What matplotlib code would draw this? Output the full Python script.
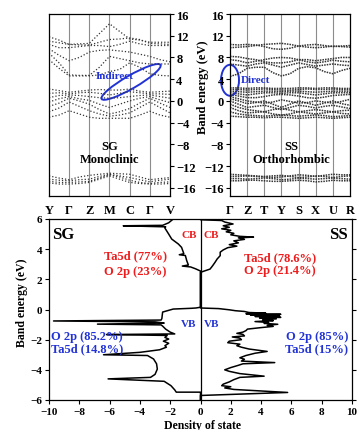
"""Band structure (SG monoclinic / SS orthorhombic) + total DOS comparison."""
import numpy as np
import matplotlib
matplotlib.use('Agg')
import matplotlib.pyplot as plt
from matplotlib.patches import Ellipse
from matplotlib.transforms import ScaledTranslation

plt.rcParams['font.family'] = ['Liberation Serif', 'DejaVu Serif']
plt.rcParams['font.weight'] = 'bold'

RED = '#ee1c1c'
BLUE = '#2233d6'
BAND_C = '#333333'

# ---- band structure data (eV at high-symmetry points and midpoints) ----
sg_kpts = ['Y', 'Γ', 'Z', 'M', 'C', 'Γ', 'V']
sg_bands = [
    [11.8, 11.2, 10.4, 10.5, 10.6, 12.4, 14.2, 12.8, 11.4, 11.2, 10.8, 10.8, 10.8],
    [11.0, 10.7, 10.4, 10.3, 10.3, 10.8, 11.3, 11.4, 11.6, 11.3, 10.6, 10.5, 10.4],
    [10.4, 9.8, 9.8, 10.0, 10.2, 10.2, 10.0, 10.4, 11.0, 10.5, 10.2, 10.2, 10.2],
    [9.6, 8.4, 7.4, 8.0, 9.0, 9.3, 9.4, 9.2, 9.0, 8.6, 8.2, 7.6, 7.2],
    [8.8, 7.0, 4.8, 4.7, 4.7, 6.2, 8.2, 7.8, 7.4, 7.0, 6.8, 6.8, 6.8],
    [7.6, 6.0, 4.6, 4.6, 4.6, 4.8, 5.4, 5.8, 7.0, 6.2, 5.0, 4.7, 4.6],
    [2.2, 1.9, 1.6, 1.8, 2.0, 2.1, 2.0, 2.0, 2.2, 1.8, 1.6, 1.7, 1.8],
    [1.4, 1.5, 1.3, 1.5, 1.6, 1.4, 1.1, 1.4, 1.7, 1.5, 1.3, 1.3, 1.2],
    [0.6, 1.0, 1.1, 1.0, 0.8, 0.6, 0.5, 0.6, 0.8, 1.0, 1.1, 0.8, 0.5],
    [-0.2, 0.4, 0.8, 0.4, 0.1, -0.6, -1.2, -0.6, 0.0, 0.5, 0.8, 0.2, -0.3],
    [-1.0, -0.4, 0.5, 0.0, -0.6, -1.6, -2.4, -2.0, -1.4, -0.4, 0.5, -0.4, -1.2],
    [-2.0, -1.3, -0.2, -1.0, -1.8, -2.4, -2.8, -2.6, -2.2, -1.2, -0.2, -1.2, -2.2],
    [-3.0, -2.6, -1.8, -2.4, -3.0, -3.2, -3.2, -3.2, -3.2, -2.6, -1.9, -2.6, -3.0],
    [-13.8, -14.2, -14.5, -14.0, -13.7, -13.5, -13.3, -13.4, -13.5, -14.0, -14.5, -14.3, -14.1],
    [-14.4, -14.6, -14.7, -14.5, -14.4, -13.9, -13.5, -13.8, -14.1, -14.5, -14.9, -14.6, -14.4],
    [-14.8, -15.0, -15.0, -14.9, -14.8, -14.2, -13.6, -14.0, -14.6, -15.0, -15.2, -15.0, -14.9],
    [-15.1, -15.3, -15.3, -15.2, -15.0, -14.4, -13.8, -14.4, -15.0, -15.2, -15.3, -15.3, -15.2],
]

ss_kpts = ['Γ', 'Z', 'T', 'Y', 'S', 'X', 'U', 'R']
ss_bands = [
    [10.4, 10.3, 10.4, 10.3, 10.0, 9.6, 9.5, 9.7, 10.1, 10.3, 10.4, 10.2, 10.0, 10.1, 10.2],
    [9.8, 9.9, 10.0, 10.2, 10.4, 10.5, 10.6, 10.4, 10.1, 9.9, 9.8, 9.9, 10.1, 10.0, 9.9],
    [8.2, 8.1, 7.8, 7.6, 7.2, 7.0, 7.0, 7.2, 7.6, 7.6, 7.4, 7.6, 7.8, 8.0, 8.0],
    [7.6, 7.4, 7.0, 7.3, 7.6, 7.9, 8.0, 7.9, 7.6, 7.2, 7.0, 7.2, 7.5, 7.3, 7.2],
    [6.8, 6.6, 6.4, 6.8, 7.0, 6.6, 6.2, 6.6, 7.0, 6.7, 6.4, 6.6, 6.8, 6.6, 6.5],
    [4.5, 5.0, 6.0, 6.2, 6.2, 5.2, 4.6, 5.0, 6.0, 6.3, 6.1, 5.4, 5.0, 5.6, 6.0],
    [2.4, 2.4, 2.3, 2.4, 2.4, 2.3, 2.3, 2.3, 2.4, 2.4, 2.3, 2.4, 2.4, 2.3, 2.3],
    [2.1, 2.1, 2.0, 2.1, 2.2, 2.1, 2.0, 2.0, 2.1, 2.2, 2.1, 2.1, 2.2, 2.1, 2.1],
    [1.8, 1.7, 1.6, 1.7, 1.8, 1.8, 1.7, 1.8, 1.8, 1.7, 1.6, 1.7, 1.8, 1.8, 1.8],
    [1.5, 1.3, 1.1, 1.3, 1.5, 1.5, 1.4, 1.5, 1.5, 1.3, 1.1, 1.3, 1.5, 1.5, 1.5],
    [1.2, 0.9, 0.6, 0.6, 0.8, 1.1, 1.2, 1.1, 0.9, 0.6, 0.5, 0.7, 1.0, 1.1, 1.2],
    [0.8, 0.4, 0.0, -0.2, -0.4, -0.2, 0.2, -0.1, -0.4, -0.3, 0.0, -0.2, -0.4, -0.1, 0.3],
    [0.4, 0.0, -0.5, -0.3, 0.0, -0.6, -1.2, -0.6, 0.0, -0.4, -0.8, -0.4, 0.0, -0.5, -0.8],
    [0.0, -0.6, -1.2, -1.0, -0.8, -1.2, -1.6, -1.2, -0.8, -1.0, -1.3, -1.0, -0.8, -1.1, -1.4],
    [-0.6, -1.2, -1.6, -1.8, -2.0, -1.6, -1.4, -1.7, -2.0, -1.8, -1.6, -1.8, -2.0, -1.8, -1.7],
    [-1.2, -1.8, -2.2, -2.1, -2.0, -2.4, -2.6, -2.4, -2.0, -2.2, -2.4, -2.2, -2.0, -2.3, -2.4],
    [-2.0, -2.4, -2.6, -2.7, -2.8, -2.7, -2.6, -2.7, -2.8, -2.7, -2.6, -2.7, -2.9, -2.8, -2.7],
    [-2.8, -2.9, -3.0, -3.0, -3.1, -3.0, -3.0, -3.1, -3.2, -3.1, -3.0, -3.1, -3.2, -3.1, -3.0],
    [-13.5, -13.6, -13.7, -13.8, -14.0, -14.1, -14.0, -13.8, -13.6, -13.7, -13.9, -13.7, -13.5, -13.6, -13.6],
    [-13.9, -13.9, -13.8, -13.9, -13.9, -13.8, -13.7, -13.9, -14.1, -14.0, -13.8, -13.9, -14.1, -13.9, -13.8],
    [-14.3, -14.3, -14.4, -14.3, -14.2, -14.3, -14.5, -14.4, -14.2, -14.3, -14.4, -14.3, -14.2, -14.3, -14.4],
    [-14.7, -14.7, -14.6, -14.6, -14.7, -14.8, -14.8, -14.7, -14.6, -14.7, -14.9, -14.8, -14.6, -14.7, -14.7],
]

# ---- DOS data: energy (eV), density ----
sg_energy = [6.3, 6.0, 5.75, 5.58, 5.55, 5.48, 5.4, 5.0, 4.67, 4.34, 4.12, 3.7, 3.63, 3.58,
             3.24, 2.95, 2.88, 2.82, 2.7, 2.55, 0.15,
             0.1, 0.08, 0.03, -0.17, -0.6, -0.7, -0.76, -0.82, -0.9, -0.97, -1.02,
             -1.1, -1.3, -1.5, -1.62, -1.66, -1.72, -1.85, -1.96, -2.1, -2.24, -2.4, -2.5,
             -2.67, -2.84, -3.0, -3.05, -3.28, -3.6, -3.95, -4.3, -4.5, -4.6, -4.76,
             -5.05, -5.33, -5.48, -5.48, -6.2]
sg_dos = [-1.0, -1.8, -2.1, -2.5, -5.1, -2.3, -2.35, -2.1, -1.9, -1.46, -1.25, -1.1, -1.4, -1.0,
          -0.91, -0.8, -1.2, -0.65, -0.33, 0.0, 0.0,
          -0.3, -0.6, -1.8, -2.5, -2.55, -2.6, -9.7, -3.0, -2.4, -6.8, -2.6,
          -2.5, -2.3, -2.0, -1.7, -6.2, -2.2, -2.35, -2.1, -2.45, -2.1, -2.35, -2.25,
          -2.7, -4.0, -6.4, -3.5, -3.1, -2.9, -2.85, -3.0, -3.3, -6.1, -2.4,
          -1.95, -1.7, -1.6, 0.0, 0.0]

ss_energy = [6.2, 5.95, 5.9, 5.8, 5.67, 5.55, 5.45, 5.35, 5.25, 5.15, 5.05, 4.95, 4.85, 4.8,
             4.75, 4.65, 4.55, 4.42, 4.3, 4.2, 4.1, 3.95, 3.8, 3.57, 3.35, 3.13, 2.9, 2.68,
             2.5, 2.46, 0.1,
             0.06, -0.02, -0.08, -0.13, -0.2, -0.24, -0.28, -0.32, -0.36, -0.42, -0.46, -0.52,
             -0.56, -0.62, -0.68, -0.74, -0.8, -0.86, -0.92, -0.98, -1.05, -1.12, -1.2, -1.3,
             -1.4, -1.5, -1.58, -1.65, -1.75, -1.82, -1.9, -2.0, -2.1, -2.2, -2.3, -2.4, -2.5,
             -2.62, -2.78, -2.9, -3.05, -3.2, -3.3, -3.42, -3.52, -3.6, -3.7, -3.85, -4.0,
             -4.1, -4.25, -4.42, -4.5, -4.65, -4.8, -4.95, -5.05, -5.12, -5.2, -5.3, -5.5,
             -5.7, -6.2]
ss_dos = [0.0, 0.0, 1.4, 1.6, 2.15, 1.5, 1.9, 1.4, 2.0, 1.7, 2.2, 2.0, 2.6, 3.5,
          2.5, 2.9, 2.2, 2.5, 1.9, 2.4, 1.8, 1.5, 1.3, 1.3, 1.1, 0.96, 0.8, 0.63,
          0.1, 0.0, 0.0,
          1.2, 1.9, 2.3, 2.9, 3.2, 4.3, 3.0, 5.3, 3.3, 5.2, 3.6, 5.3,
          3.9, 5.0, 4.1, 4.8, 3.6, 4.5, 4.2, 5.1, 4.4, 4.8, 4.0, 3.1,
          3.0, 2.8, 2.4, 2.8, 2.9, 2.1, 2.6, 2.7, 1.9, 1.8, 2.6, 2.4, 2.7,
          3.2, 4.4, 3.6, 3.0, 2.6, 2.9, 2.7, 4.9, 2.8, 2.5, 2.0, 1.6,
          1.9, 2.6, 4.2, 2.6, 2.2, 1.9, 1.5, 1.4, 2.0, 1.6, 2.2, 5.75,
          0.0, 0.0]

fig = plt.figure(figsize=(3.62, 4.31), dpi=100)
ax1 = fig.add_axes([49 / 362, 1 - 197 / 431, 121 / 362, 182 / 431])
ax2 = fig.add_axes([230 / 362, 1 - 197 / 431, 120 / 362, 182 / 431])
ax3 = fig.add_axes([49 / 362, 1 - 401 / 431, 303 / 362, 181 / 431])


def band_panel(ax, kpts, bands, dash, lw):
    n = len(kpts) - 1
    k = np.linspace(0, n, 2 * n + 1)
    for i in range(1, n):
        ax.axvline(i, color='#8c8c8c', lw=0.8, zorder=1)
    for b in bands:
        ax.plot(k, b, color=BAND_C, lw=lw, ls=(0, dash), zorder=2)
    ax.set_xlim(0, n)
    ax.set_ylim(-17.5, 16)
    ax.set_xticks(range(n + 1))
    ax.set_xticklabels(kpts, fontsize=9)
    ax.tick_params(axis='x', length=0, pad=6)
    ax.set_yticks(range(-16, 17, 4))
    ax.tick_params(axis='y', labelsize=9, length=3, width=0.8, pad=1.5)
    for s in ax.spines.values():
        s.set_linewidth(0.9)


band_panel(ax1, sg_kpts, sg_bands, (1, 1.6), 0.9)
ax1.yaxis.tick_right()
band_panel(ax2, ss_kpts, ss_bands, (1, 0.7), 1.1)

# annotations on band panels
ax1.text(3.0, -8.3, 'SG', ha='center', va='center', fontsize=9)
ax1.text(3.0, -10.6, 'Monoclinic', ha='center', va='center', fontsize=9)
ax1.text(3.27, 4.6, 'Indirect', ha='center', va='center', fontsize=8, color=BLUE)
e1 = Ellipse((0, 0), 0.68, 0.13, angle=30, fill=False, ec=BLUE, lw=1.4,
             transform=fig.dpi_scale_trans + ScaledTranslation(4.07, 3.5, ax1.transData))
ax1.add_patch(e1)

ax2.text(3.56, -8.3, 'SS', ha='center', va='center', fontsize=9)
ax2.text(3.56, -10.7, 'Orthorhombic', ha='center', va='center', fontsize=9)
ax2.text(0.64, 3.9, 'Direct', ha='left', va='center', fontsize=8, color=BLUE)
e2 = Ellipse((0, 0), 0.18, 0.31, fill=False, ec=BLUE, lw=1.4, clip_on=False,
             transform=fig.dpi_scale_trans + ScaledTranslation(0.0, 3.8, ax2.transData))
ax2.add_patch(e2)
fig.text(203 / 362, 1 - 87 / 431, 'Band energy (eV)', rotation=90,
         ha='center', va='center', fontsize=9)

# ---- DOS panel ----
ax3.axvline(0, color='black', lw=0.9, zorder=1)
ax3.plot(sg_dos, sg_energy, color='black', lw=1.1, zorder=3)
ax3.plot(ss_dos, ss_energy, color='black', lw=1.1, zorder=3)
ax3.set_xlim(-10, 10)
ax3.set_ylim(-6, 6)
ax3.set_xticks(range(-10, 11, 2))
ax3.set_yticks(range(-6, 7, 2))
ax3.tick_params(labelsize=8, length=3, width=0.8, pad=2, right=True)
for s in ax3.spines.values():
    s.set_linewidth(0.9)

ax3.text(-9.8, 5.55, 'SG', ha='left', va='top', fontsize=12)
ax3.text(9.75, 5.55, 'SS', ha='right', va='top', fontsize=12)
ax3.text(-0.25, 5.0, 'CB', ha='right', va='center', fontsize=8, color=RED)
ax3.text(0.2, 5.0, 'CB', ha='left', va='center', fontsize=8, color=RED)
ax3.text(-0.25, -0.96, 'VB', ha='right', va='center', fontsize=8, color=BLUE)
ax3.text(0.2, -0.96, 'VB', ha='left', va='center', fontsize=8, color=BLUE)
ax3.text(-4.3, 3.57, 'Ta5d (77%)', ha='center', va='center', fontsize=9, color=RED)
ax3.text(-4.3, 2.55, 'O 2p (23%)', ha='center', va='center', fontsize=9, color=RED)
ax3.text(5.25, 3.48, 'Ta5d (78.6%)', ha='center', va='center', fontsize=9, color=RED)
ax3.text(5.25, 2.64, 'O 2p (21.4%)', ha='center', va='center', fontsize=9, color=RED)
ax3.text(-9.87, -1.74, 'O 2p (85.2%)', ha='left', va='center', fontsize=9, color=BLUE)
ax3.text(-9.87, -2.59, 'Ta5d (14.8%)', ha='left', va='center', fontsize=9, color=BLUE)
ax3.text(9.74, -1.74, 'O 2p (85%)', ha='right', va='center', fontsize=9, color=BLUE)
ax3.text(9.74, -2.59, 'Ta5d (15%)', ha='right', va='center', fontsize=9, color=BLUE)

fig.text(22 / 362, 1 - 303 / 431, 'Band energy (eV)', rotation=90,
         ha='center', va='center', fontsize=8.5)
fig.text(202 / 362, 1 - 420 / 431, 'Density of state', ha='center', va='top', fontsize=8.5)

fig.savefig('out.png', dpi=100)
